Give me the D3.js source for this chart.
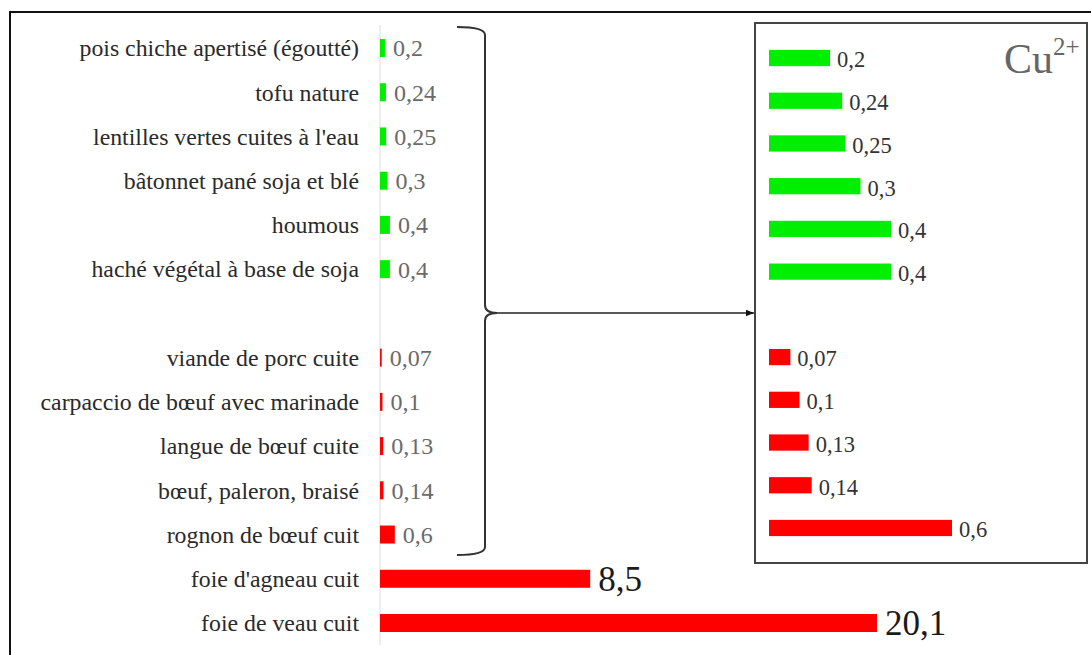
<!DOCTYPE html>
<html>
<head>
<meta charset="utf-8">
<script src="https://cdn.jsdelivr.net/npm/d3@7"></script>
<style>
  body { margin: 0; background: #fff; }
  svg { display: block; }
  svg text { font-family: "Liberation Serif", "Times New Roman", serif; }
</style>
</head>
<body>
<svg id="chart" width="1091" height="655"></svg>
<script>
// données : teneur en cuivre (Cu2+) des aliments
var aliments = [
  "pois chiche apertisé (égoutté)",
  "tofu nature",
  "lentilles vertes cuites à l'eau",
  "bâtonnet pané soja et blé",
  "houmous",
  "haché végétal à base de soja",
  "viande de porc cuite",
  "carpaccio de bœuf avec marinade",
  "langue de bœuf cuite",
  "bœuf, paleron, braisé",
  "rognon de bœuf cuit",
  "foie d'agneau cuit",
  "foie de veau cuit"
];
var teneurs = [0.2, 0.24, 0.25, 0.3, 0.4, 0.4, 0.07, 0.1, 0.13, 0.14, 0.6, 8.5, 20.1];
var groupes = ["vegetal", "vegetal", "vegetal", "vegetal", "vegetal", "vegetal",
               "animal", "animal", "animal", "animal", "animal", "animal", "animal"];
// les aliments repris dans l'encadré (zoom)
var alimentsZoom = aliments.slice(0, 11);

var couleurs = { vegetal: "#00ee00", animal: "#ff0000" };
var virgule = function(v) { return String(v).replace(".", ","); };

var data = aliments.map(function(d, i) {
  return { nom: d, valeur: teneurs[i], groupe: groupes[i] };
});

var svg = d3.select("#chart");

// cadre extérieur
svg.append("path")
  .attr("d", "M10,660 V12 H1100")
  .attr("fill", "none")
  .attr("stroke", "#111")
  .attr("stroke-width", 2);

// --- graphique principal ---
// une case vide entre végétal et animal
var domaineY = aliments.slice(0, 6).concat(["__vide__"]).concat(aliments.slice(6));
var pas = 44.23;
var yScale = d3.scaleBand()
  .domain(domaineY)
  .range([48 - pas / 2, 623 + pas / 2])
  .paddingInner(0.593)
  .paddingOuter(0.593 / 2);

var xScale = d3.scaleLinear().domain([0, 20.1]).range([380, 877]);

// ligne d'axe grise
svg.append("line")
  .attr("x1", xScale(0)).attr("x2", xScale(0))
  .attr("y1", 25).attr("y2", 645)
  .attr("stroke", "#dcdcdc").attr("stroke-width", 1);

var principal = svg.append("g").attr("class", "principal");

principal.selectAll("rect")
  .data(data)
  .enter()
  .append("rect")
  .attr("x", xScale(0))
  .attr("y", function(d) { return yScale(d.nom); })
  .attr("width", function(d) { return xScale(d.valeur) - xScale(0); })
  .attr("height", yScale.bandwidth())
  .attr("fill", function(d) { return couleurs[d.groupe]; });

// étiquettes des aliments
principal.selectAll("text.nom")
  .data(data)
  .enter()
  .append("text")
  .attr("class", "nom")
  .attr("x", 359)
  .attr("y", function(d) { return yScale(d.nom) + yScale.bandwidth() / 2; })
  .attr("dy", "0.35em")
  .attr("text-anchor", "end")
  .attr("font-size", 23.8)
  .attr("fill", "#2a2a2a")
  .text(function(d) { return d.nom; });

// valeurs
principal.selectAll("text.valeur")
  .data(data)
  .enter()
  .append("text")
  .attr("class", "valeur")
  .attr("x", function(d) { return xScale(d.valeur) + 8; })
  .attr("y", function(d) { return yScale(d.nom) + yScale.bandwidth() / 2; })
  .attr("dy", "0.35em")
  .attr("font-size", function(d) { return d.valeur > 1 ? 35 : 24; })
  .attr("fill", function(d) { return d.valeur > 1 ? "#1a1a1a" : "#6a6a6a"; })
  .text(function(d) { return virgule(d.valeur); });

// --- accolade et flèche ---
svg.append("path")
  .attr("d", "M457,27 Q485,27 485,35 V305 Q485,313 497,313 Q485,313 485,321 V547 Q485,555 457,555")
  .attr("fill", "none")
  .attr("stroke", "#333")
  .attr("stroke-width", 2);

svg.append("defs").append("marker")
  .attr("id", "fleche")
  .attr("viewBox", "0 0 10 10")
  .attr("refX", 10).attr("refY", 5)
  .attr("markerWidth", 8).attr("markerHeight", 8)
  .attr("markerUnits", "userSpaceOnUse")
  .attr("orient", "auto")
  .append("path")
  .attr("d", "M0,1 L10,5 L0,9 Z")
  .attr("fill", "#111");

svg.append("line")
  .attr("x1", 497).attr("x2", 754)
  .attr("y1", 313).attr("y2", 313)
  .attr("stroke", "#222").attr("stroke-width", 1.5)
  .attr("marker-end", "url(#fleche)");

// --- encadré (zoom) ---
svg.append("rect")
  .attr("x", 755).attr("y", 23)
  .attr("width", 332).attr("height", 540)
  .attr("fill", "#fff")
  .attr("stroke", "#444").attr("stroke-width", 2);

var domaineZoom = alimentsZoom.slice(0, 6).concat(["__vide__"]).concat(alimentsZoom.slice(6));
var pasZ = 42.7;
var yZoom = d3.scaleBand()
  .domain(domaineZoom)
  .range([58 - pasZ / 2, 528 + pasZ / 2])
  .paddingInner(0.62)
  .paddingOuter(0.31);

var xZoom = d3.scaleLinear().domain([0, 0.6]).range([769, 952]);

var dataZoom = data.filter(function(d) { return alimentsZoom.indexOf(d.nom) >= 0; });

var zoom = svg.append("g").attr("class", "zoom");

zoom.selectAll("rect")
  .data(dataZoom)
  .enter()
  .append("rect")
  .attr("x", xZoom(0))
  .attr("y", function(d) { return yZoom(d.nom); })
  .attr("width", function(d) { return xZoom(d.valeur) - xZoom(0); })
  .attr("height", yZoom.bandwidth())
  .attr("fill", function(d) { return couleurs[d.groupe]; });

zoom.selectAll("text")
  .data(dataZoom)
  .enter()
  .append("text")
  .attr("x", function(d) { return xZoom(d.valeur) + 7; })
  .attr("y", function(d) { return yZoom(d.nom) + yZoom.bandwidth() / 2 + 1.5; })
  .attr("dy", "0.35em")
  .attr("font-size", 22.5)
  .attr("fill", "#333")
  .text(function(d) { return virgule(d.valeur); });

// titre Cu2+
var titre = svg.append("text")
  .attr("x", 1004).attr("y", 73)
  .attr("font-size", 42)
  .attr("fill", "#666");
titre.append("tspan").text("Cu");
titre.append("tspan")
  .attr("font-size", 25)
  .attr("dy", -18)
  .text("2+");
</script>
</body>
</html>
